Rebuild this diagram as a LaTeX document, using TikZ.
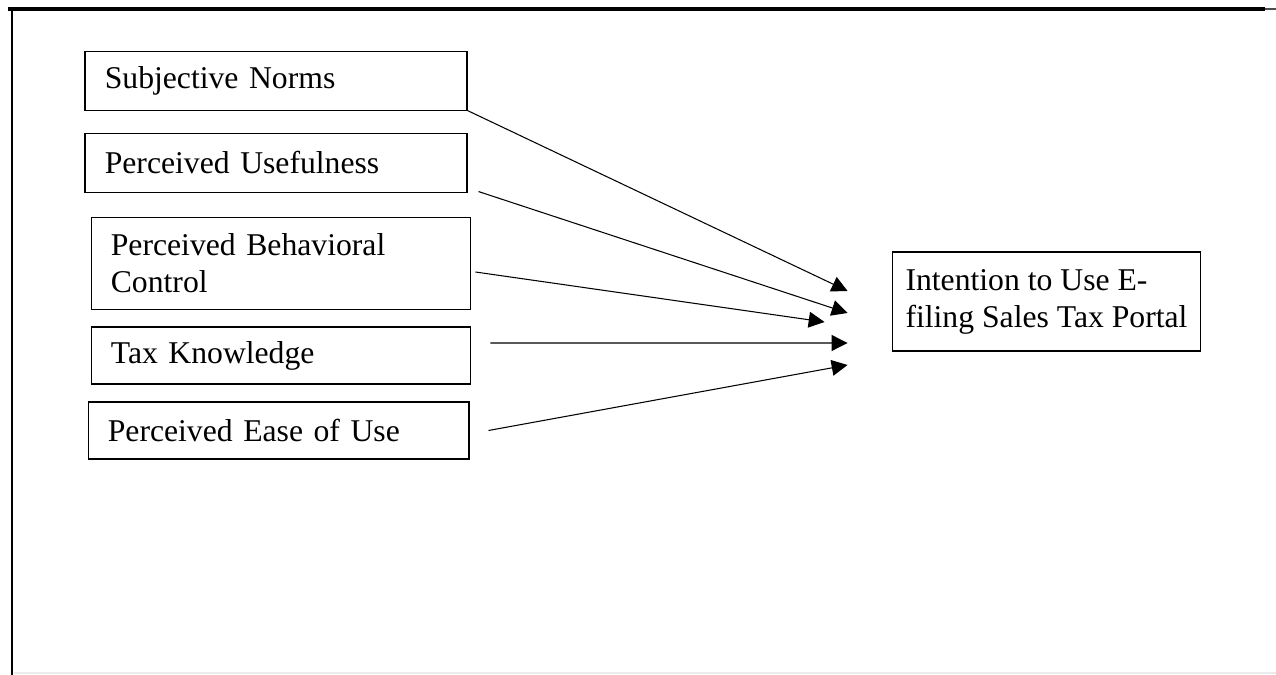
\documentclass[tikz,border=0pt]{standalone}
\usepackage{fontspec}
\setmainfont{Liberation Serif}
\usepackage{tikz}
\usetikzlibrary{arrows.meta, calc}

\begin{document}
\begin{tikzpicture}[
    x=0.3788pt, y=-0.3788pt,
    >={Triangle[length=6pt, width=6pt]},
    factorbox/.style={
        rectangle,
        draw=black,
        line width=0.4pt,
        inner xsep=7.5pt,
        inner ysep=2pt,
        align=left,
        font=\fontsize{12pt}{14pt}\selectfont
    }
]
\useasboundingbox (0,0) rectangle (1276,675);

% page frame
\draw[line width=1.5pt] (8,9) -- (1265,9);
\draw[line width=0.6pt, black!70] (1265,9) -- (1276,9);
\draw[line width=1.1pt] (12,9) -- (12,675);
\draw[line width=0.5pt, black!8] (14,673) -- (1276,673);

\node[factorbox, text width=129.7pt, minimum height=22pt] (norms) at (276,81) {Subjective Norms};
\node[factorbox, text width=129.7pt, minimum height=22pt] (useful) at (276,163) {Perceived Usefulness};
\node[factorbox, text width=128.9pt, minimum height=35.2pt] (control) at (281,263.5) {Perceived Behavioral\\Control};
\node[factorbox, text width=128.9pt, minimum height=21.6pt] (knowledge) at (281,355.5) {Tax Knowledge};
\node[factorbox, text width=129.3pt, minimum height=21.6pt] (ease) at (278.5,430.5) {Perceived Ease of Use};
\node[factorbox, inner xsep=3pt, minimum width=117pt, minimum height=37.5pt] (intent) at (1046.5,301.5) {Intention to Use E-\\filing Sales Tax Portal};

\draw[->] (norms.south east) -- ($(intent.west)+(-44,-10.5)$);
\draw[->] ($(useful.south east)+(11,-1)$) -- ($(intent.west)+(-44,11.5)$);
\draw[->] ($(control.east)+(4,8.5)$) -- ($(intent.west)+(-67,20.5)$);
\draw[->] ($(knowledge.east)+(19,-12.5)$) -- ($(intent.west)+(-44,41.5)$);
\draw[->] ($(ease.east)+(19,0)$) -- ($(intent.west)+(-44,63.5)$);
\end{tikzpicture}
\end{document}
